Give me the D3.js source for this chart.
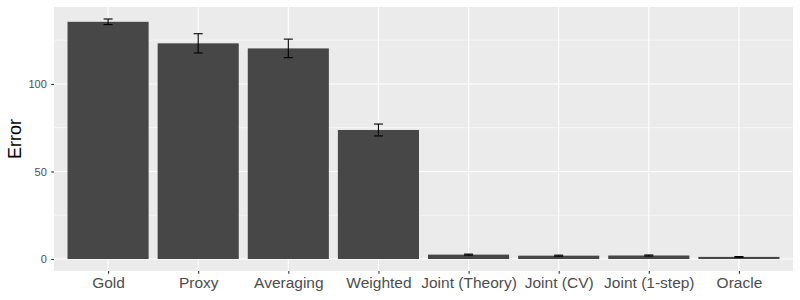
<!DOCTYPE html>
<html><head><meta charset="utf-8">
<script src="https://cdn.jsdelivr.net/npm/d3@7"></script>
<style>body{margin:0;background:#fff}svg{display:block}</style>
</head><body>
<script>
const categories = ["Gold","Proxy","Averaging","Weighted","Joint (Theory)","Joint (CV)","Joint (1-step)","Oracle"];
const values = [135.5, 123.2, 120.3, 73.7, 2.5, 1.9, 2.0, 1.2];
const errors = [1.6, 5.5, 5.3, 3.4, 0.3, 0.3, 0.3, 0.2];
const yTicks = [0, 50, 100];
const yMinor = [25, 75, 125];

const W = 800, H = 300;
const pL = 54, pR = 793, pT = 7, pB = 271;
const svg = d3.select("body").append("svg").attr("width", W).attr("height", H);

const hi = d3.max(values.map((v,i)=>v+errors[i]));
const pad = 0.05*hi;
const y = d3.scaleLinear().domain([-pad, hi+pad]).range([pB, pT]);
const x = d3.scalePoint().domain(categories).range([pL, pR]).padding(0.6);
const step = x.step();

svg.append("rect").attr("x", pL).attr("y", pT).attr("width", pR-pL).attr("height", pB-pT).attr("fill", "#EBEBEB");

const g = svg.append("g");
g.selectAll("line.minor").data(yMinor).join("line")
  .attr("x1", pL).attr("x2", pR).attr("y1", d=>y(d)).attr("y2", d=>y(d))
  .attr("stroke", "#fff").attr("stroke-width", 0.55);
g.selectAll("line.major").data(yTicks).join("line")
  .attr("x1", pL).attr("x2", pR).attr("y1", d=>y(d)).attr("y2", d=>y(d))
  .attr("stroke", "#fff").attr("stroke-width", 1.1);
g.selectAll("line.vmajor").data(categories).join("line")
  .attr("x1", d=>x(d)).attr("x2", d=>x(d)).attr("y1", pT).attr("y2", pB)
  .attr("stroke", "#fff").attr("stroke-width", 1.1);

const bw = 0.9*step;
svg.selectAll("rect.bar").data(categories).join("rect")
  .attr("x", d=>x(d)-bw/2).attr("width", bw)
  .attr("y", (d,i)=>y(values[i])).attr("height", (d,i)=>y(0)-y(values[i]))
  .attr("fill", "#474747");

const cw = 0.1*step;
const eb = svg.append("g").attr("stroke", "#000").attr("stroke-width", 1.1);
categories.forEach((c,i)=>{
  const cx = x(c), t = y(values[i]+errors[i]), b = y(values[i]-errors[i]);
  eb.append("line").attr("x1", cx).attr("x2", cx).attr("y1", t).attr("y2", b);
  eb.append("line").attr("x1", cx-cw/2).attr("x2", cx+cw/2).attr("y1", t).attr("y2", t);
  eb.append("line").attr("x1", cx-cw/2).attr("x2", cx+cw/2).attr("y1", b).attr("y2", b);
});

const ya = svg.append("g").attr("transform", `translate(${pL},0)`)
  .call(d3.axisLeft(y).tickValues(yTicks).tickSize(2.7).tickPadding(4.5));
ya.select(".domain").remove();
ya.selectAll(".tick line").attr("stroke", "#333").attr("stroke-width", 1.1);
ya.selectAll(".tick text").attr("fill", "#4D4D4D").style("font-family", "Liberation Sans, Arial, sans-serif").style("font-size", "11px");

const xa = svg.append("g").attr("transform", `translate(0,${pB})`)
  .call(d3.axisBottom(x).tickSize(2.7).tickPadding(3));
xa.select(".domain").remove();
xa.selectAll(".tick line").attr("stroke", "#333").attr("stroke-width", 1.1);
xa.selectAll(".tick text").attr("fill", "#4D4D4D").style("font-family", "Liberation Sans, Arial, sans-serif").style("font-size", "15.5px");

svg.append("text").attr("transform", `translate(21,${(pT+pB)/2}) rotate(-90)`)
  .attr("text-anchor", "middle").style("font-family", "Liberation Sans, Arial, sans-serif")
  .style("font-size", "18px").attr("fill", "#000").text("Error");
</script>
</body></html>
